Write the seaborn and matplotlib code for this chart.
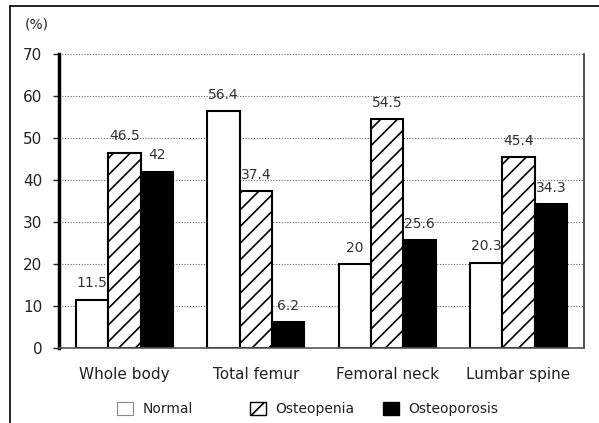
import pandas as pd
import seaborn as sns
import matplotlib.pyplot as plt
from matplotlib.patches import Patch
from matplotlib.lines import Line2D

sites = ["Whole body", "Total femur", "Femoral neck", "Lumbar spine"]
groups = ["Normal", "Osteopenia", "Osteoporosis"]
normal = [11.5, 56.4, 20, 20.3]
osteopenia = [46.5, 37.4, 54.5, 45.4]
osteoporosis = [42, 6.2, 25.6, 34.3]

rows = []
for i, s in enumerate(sites):
    for g, vals in zip(groups, [normal, osteopenia, osteoporosis]):
        rows.append({"site": s, "group": g, "pct": vals[i]})
df = pd.DataFrame(rows)

sns.set_style("white")
plt.rcParams['font.family'] = ['DejaVu Sans']
plt.rcParams['hatch.linewidth'] = 1.2

fig = plt.figure(figsize=(5.99, 4.23), dpi=100)
ax = fig.add_axes([59/599, 75/423, 525/599, 294/423])

ax = sns.barplot(data=df, x="site", y="pct", hue="group", order=sites, hue_order=groups,
                 palette=["white", "white", "black"], width=0.74, edgecolor="black",
                 linewidth=1.5, saturation=1, legend=False, ax=ax)

# hatch the osteopenia bars and put the values above the bars
for cont, g in zip(ax.containers, groups):
    for bar in cont:
        if g == "Osteopenia":
            bar.set_hatch("//")
        h = bar.get_height()
        ax.text(bar.get_x() + bar.get_width() / 2, h + 2.2, f"{h:g}", ha="center", va="bottom",
                fontsize=10, color="#333333")

ax.set_ylim(0, 70)
ax.set_yticks(range(0, 71, 10))
ax.set_xlim(-0.5, 3.5)
ax.yaxis.grid(True, linestyle=(0, (1, 1.5)), color="#666666", linewidth=0.8)
ax.set_axisbelow(True)
ax.set_xlabel("")
ax.set_ylabel("")
ax.tick_params(axis="x", length=0, labelsize=11, pad=14, colors="#222222")
ax.tick_params(axis="y", length=4, width=1, labelsize=11, pad=8, left=True, colors="#222222")
ax.spines["left"].set_linewidth(2.5)
ax.spines["left"].set_color("black")
ax.spines["right"].set_linewidth(1.2)
ax.spines["right"].set_color("#333333")
ax.spines["bottom"].set_linewidth(1.2)
ax.spines["bottom"].set_color("#555555")
ax.spines["top"].set_visible(False)

fig.text(25/599, 1 - 24/423, "(%)", fontsize=10, va="center", color="#222222")

# outer frame (top and left only)
fig.add_artist(Line2D([10/599, 1], [1 - 6/423, 1 - 6/423], transform=fig.transFigure,
                      color="black", linewidth=1.2))
fig.add_artist(Line2D([10/599, 10/599], [0, 1 - 6/423], transform=fig.transFigure,
                      color="black", linewidth=1.2))

# legend entries sit in fixed-width columns
handles = [Patch(facecolor="white", edgecolor="#888888", linewidth=0.8, label="Normal"),
           Patch(facecolor="white", edgecolor="black", hatch="//", label="Osteopenia"),
           Patch(facecolor="black", edgecolor="black", label="Osteoporosis")]
for hnd, x0 in zip(handles, [117, 250, 383]):
    leg = fig.legend(handles=[hnd], loc="center left", bbox_to_anchor=(x0/599, 1 - 409/423),
                     frameon=False, fontsize=10, handlelength=1.15, handleheight=1.15,
                     handletextpad=0.7, borderpad=0, borderaxespad=0)
    for t in leg.get_texts():
        t.set_color("#222222")

fig.savefig("out.png", dpi=100)
